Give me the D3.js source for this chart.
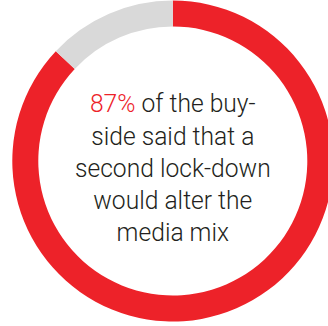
<!DOCTYPE html>
<html>
<head>
<meta charset="utf-8">
<script src="https://cdn.jsdelivr.net/npm/d3@7"></script>
<style>
  html, body { margin: 0; padding: 0; background: #fff; overflow: hidden; }
  svg { display: block; }
</style>
</head>
<body>
<svg id="chart" width="328" height="326"></svg>
<script>
const categories = ["Would alter the media mix", "Would not"];
const values = [87, 13];
const colors = ["#ED2229", "#D9D9D9"];
const highlight = "87%";
const lines = ["of the buy-", "side said that a", "second lock-down", "would alter the", "media mix"];

const svg = d3.select("#chart");
const cx = 172.8, cy = 161, outerR = 160.5, innerR = 134.5;

const pie = d3.pie().sort(null).value(d => d);
const arc = d3.arc().innerRadius(innerR).outerRadius(outerR);

const g = svg.append("g").attr("transform", `translate(${cx},${cy})`);
g.selectAll("path")
  .data(pie(values))
  .join("path")
  .attr("d", arc)
  .attr("fill", (d, i) => colors[i]);

const fontSize = 26.5;
const lineGap = 32.3;
const firstBaseline = 112.3 - cy;
const txt = g.append("g").attr("transform", "scale(0.93,1)");
lines.forEach((ln, i) => {
  const t = txt.append("text")
    .attr("x", 0)
    .attr("y", firstBaseline + i * lineGap)
    .attr("text-anchor", "middle")
    .style("font-family", "Roboto, 'Open Sans', sans-serif")
    .style("font-weight", 300)
    .style("font-size", fontSize + "px")
    .style("fill", "#231F20");
  if (i === 0) {
    t.append("tspan").style("fill", colors[0]).text(highlight);
    t.append("tspan").text(" " + ln);
  } else {
    t.text(ln);
  }
});
</script>
</body>
</html>
